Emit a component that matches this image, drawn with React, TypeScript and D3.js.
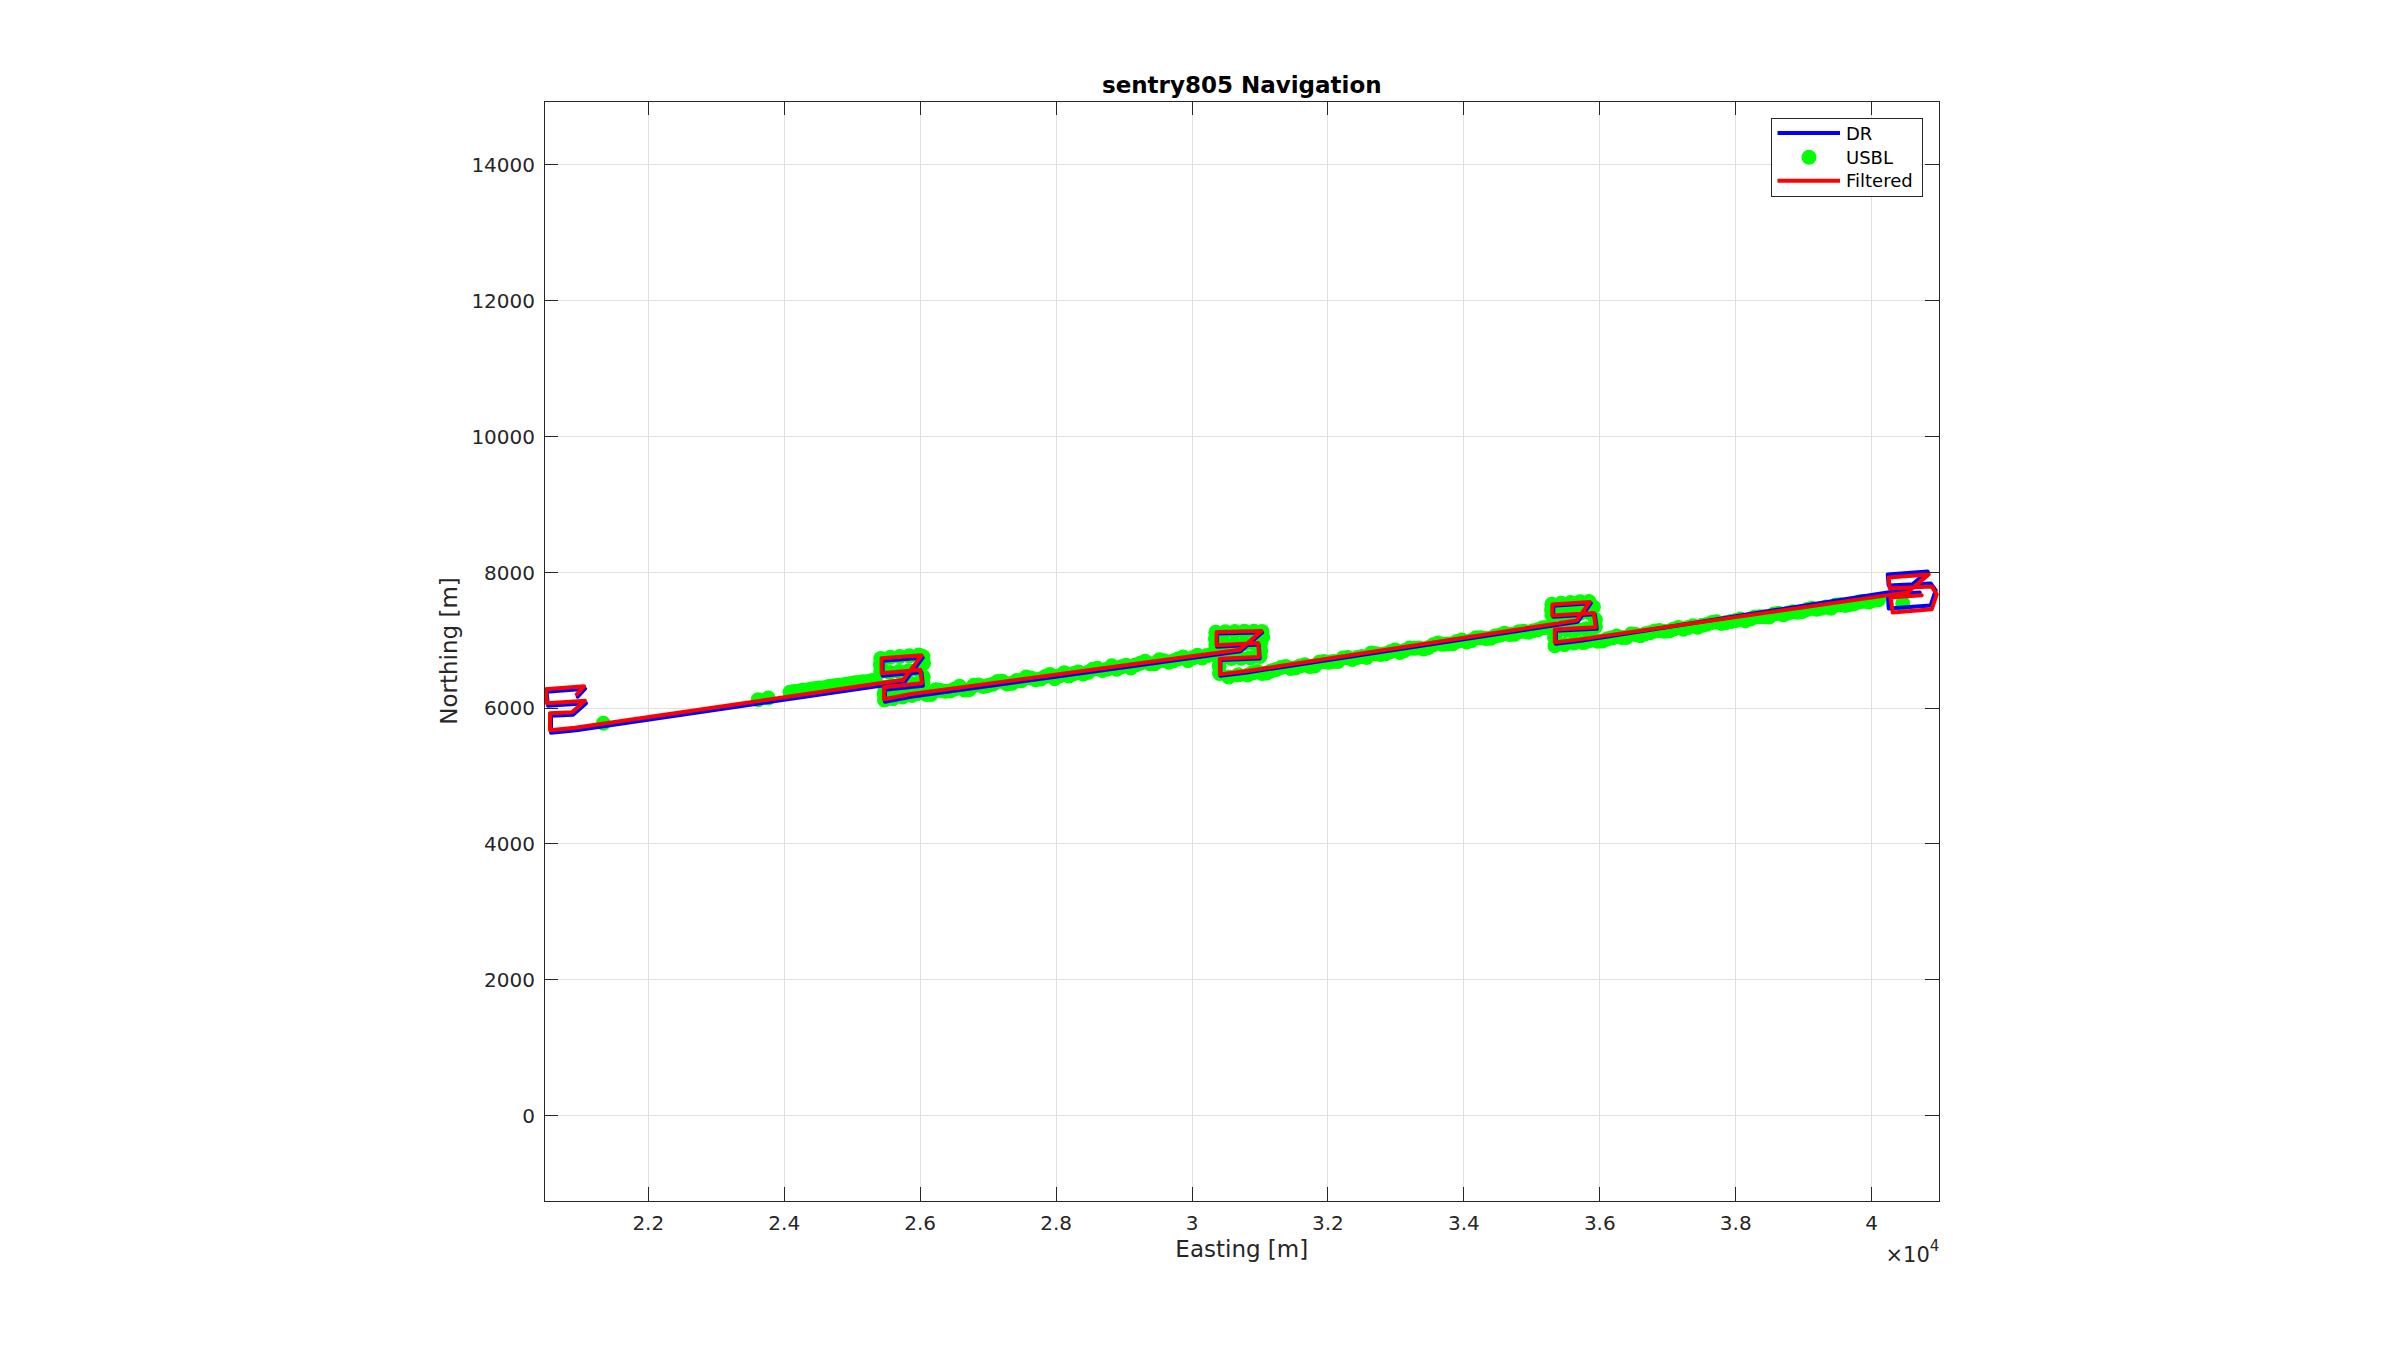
import React from 'react';
import * as d3 from 'd3';

// Axis limits (data units, metres) and ticks
const xLimits = [20470, 40995];
const yLimits = [-1256, 14938];
const xTicks = [22000, 24000, 26000, 28000, 30000, 32000, 34000, 36000, 38000, 40000];
const yTicks = [0, 2000, 4000, 6000, 8000, 10000, 12000, 14000];

// Filtered navigation track
const filteredE = [
  20947, 21054, 20488, 20510, 21069, 20878, 20554, 20554, 20922,
  25751, 26022, 25433, 25433, 26004, 26026, 25467, 25467, 25850,
  30704, 31023, 30361, 30361, 30973, 30988, 30410, 30410, 30778,
  35661, 35852, 35301, 35301, 35911, 35941, 35338, 35338, 35705,
  40530, 40839, 40251, 40265, 40883, 40957, 40883, 40310, 40280, 40736,
];
const filteredN = [
  6203, 6321, 6277, 6071, 6108, 5938, 5924, 5674, 5710,
  6417, 6777, 6733, 6512, 6564, 6365, 6306, 6130, 6203,
  6858, 7134, 7120, 6924, 6958, 6752, 6728, 6497, 6542,
  7292, 7564, 7527, 7365, 7402, 7189, 7159, 6968, 7012,
  7704, 7968, 7924, 7762, 7792, 7674, 7454, 7409, 7630, 7660,
];

// Dead-reckoning track
const drE = [
  20962, 21069, 20503, 20525, 21084, 20893, 20569, 20569, 20937,
  25766, 26037, 25448, 25448, 26019, 26041, 25482, 25482, 25865,
  30712, 31031, 30369, 30369, 30981, 30996, 30418, 30418, 30786,
  35676, 35867, 35316, 35316, 35926, 35956, 35353, 35353, 35720,
  40515, 40824, 40236, 40250, 40868, 40942, 40868, 40251, 40236, 40707,
];
const drN = [
  6168, 6286, 6242, 6036, 6073, 5903, 5889, 5639, 5675,
  6382, 6742, 6698, 6477, 6529, 6330, 6271, 6095, 6168,
  6838, 7114, 7100, 6904, 6938, 6732, 6708, 6477, 6522,
  7272, 7544, 7507, 7345, 7382, 7169, 7139, 6948, 6992,
  7748, 8012, 7968, 7806, 7836, 7733, 7512, 7468, 7674, 7704,
];

// USBL fixes
const usblE = [
  21338,
  23618, 23765, 24085, 24200, 24330, 24460, 24590, 24720, 24850, 24980, 25100, 25220, 25340,
  24140, 24265, 24395, 24525, 24655, 24785, 24915, 25040, 25160, 25280,
  25420, 25560, 25700, 25840, 25980, 26040, 25415, 25420, 25550, 25690, 25830, 25970,
  26050, 26045, 26040, 25900, 25760, 25620, 25480, 25470, 25475, 25600, 25740,
  25880, 26020, 26160, 26300, 26440, 26580, 26720, 26860, 27000, 27140, 27280, 27420,
  27560, 27700, 27840, 27980, 28120, 28260, 28400, 28540, 28680, 28820, 28960, 29100,
  29240, 29380, 29520, 29660, 29800, 29940, 30080, 30220, 30360,
  25950, 26090, 26230, 26370, 26510, 26650, 26790, 26930, 27070, 27210, 27350, 27490,
  27630, 27770, 27910, 28050, 28190, 28330, 28470, 28610, 28750, 28890, 29030, 29170,
  29310, 29450, 29590, 29730, 29870, 30010, 30150, 30290,
  30350, 30490, 30630, 30770, 30910, 31030, 30345, 30350, 30490, 30630, 30770, 30910,
  31010, 31040, 31010, 31000, 30860, 30720, 30580, 30430, 30400, 30405,
  30540, 30680, 30820, 30960, 31100, 31240, 31380, 31520, 31660, 31800, 31940, 32080,
  32220, 32360, 32500, 32640, 32780, 32920, 33060, 33200, 33340, 33480, 33620, 33760,
  33900, 34040, 34180, 34320, 34460, 34600, 34740, 34880, 35020, 35160, 35300,
  30890, 31030, 31170, 31310, 31450, 31590, 31730, 31870, 32010, 32150, 32290, 32430,
  32570, 32710, 32850, 32990, 33130, 33270, 33410, 33550, 33690, 33830, 33970, 34110,
  34250, 34390, 34530, 34670, 34810, 34950, 35090, 35230,
  35295, 35430, 35570, 35710, 35840, 35290, 35295, 35430, 35570, 35710, 35850, 35905,
  35935, 35935, 35800, 35660, 35520, 35380, 35335, 35340,
  35480, 35620, 35760, 35900, 36040, 36180, 36320, 36460, 36600, 36740, 36880, 37020,
  37160, 37300, 37440, 37580, 37720, 37860, 38000, 38140, 38280, 38420, 38560, 38700,
  38840, 38980, 39120, 39260, 39400, 39540, 39680, 39820, 39960, 40100,
  35830, 35970, 36110, 36250, 36390, 36530, 36670, 36810, 36950, 37090, 37230, 37370,
  37510, 37650, 37790, 37930, 38070, 38210, 38350, 38490, 38630, 38770, 38910, 39050,
  39190, 39330, 39470, 39610, 39750, 39890, 40030,
  40457,
];
const usblN = [
  5777,
  6125, 6150, 6235, 6250, 6262, 6288, 6300, 6325, 6340, 6362, 6378, 6390, 6410,
  6245, 6262, 6280, 6295, 6318, 6338, 6352, 6372, 6388, 6402,
  6730, 6748, 6760, 6770, 6782, 6760, 6640, 6540, 6525, 6540, 6550, 6565,
  6660, 6460, 6380, 6350, 6335, 6320, 6305, 6210, 6120, 6140, 6165,
  6187, 6236, 6200, 6259, 6253, 6321, 6270, 6339, 6333, 6392, 6356, 6405,
  6459, 6418, 6466, 6435, 6519, 6508, 6502, 6571, 6555, 6624, 6608, 6591,
  6660, 6654, 6713, 6677, 6726, 6700, 6779, 6773, 6776,
  6211, 6200, 6269, 6248, 6282, 6266, 6335, 6319, 6353, 6396, 6365, 6404,
  6443, 6427, 6496, 6475, 6474, 6533, 6527, 6586, 6574, 6573, 6632, 6636,
  6690, 6654, 6698, 6697, 6751, 6740, 6738, 6792,
  7118, 7125, 7128, 7130, 7133, 7128, 7020, 6930, 6935, 6945, 6950, 6955,
  6960, 7040, 6850, 6760, 6740, 6735, 6730, 6725, 6620, 6510,
  6460, 6490, 6488, 6540, 6516, 6568, 6614, 6591, 6637, 6619, 6685, 6687,
  6738, 6715, 6761, 6813, 6790, 6831, 6818, 6884, 6886, 6892, 6959, 6945,
  6982, 6973, 7035, 7026, 7063, 7104, 7086, 7132, 7139, 7185, 7187,
  6519, 6511, 6552, 6599, 6585, 6622, 6613, 6675, 6676, 6688, 6744, 6746,
  6747, 6799, 6800, 6857, 6848, 6880, 6871, 6933, 6939, 6946, 7002, 6994,
  7035, 7027, 7073, 7085, 7126, 7118, 7154, 7186,
  7530, 7545, 7555, 7565, 7570, 7445, 7370, 7378, 7388, 7395, 7405, 7490,
  7300, 7200, 7170, 7160, 7150, 7140, 7040, 6920,
  6935, 6960, 6965, 7005, 6990, 7035, 7040, 7090, 7065, 7110, 7141, 7136,
  7186, 7186, 7191, 7236, 7271, 7261, 7291, 7286, 7341, 7346, 7386, 7376,
  7417, 7422, 7472, 7472, 7472, 7522, 7527, 7567, 7562, 7597,
  6990, 6985, 7020, 7060, 7040, 7085, 7095, 7135, 7131, 7166, 7161, 7211,
  7221, 7261, 7246, 7276, 7311, 7311, 7346, 7341, 7396, 7402, 7412, 7452,
  7457, 7487, 7517, 7512, 7542, 7572, 7587,
  7542,
];

const legendItems = ['DR', 'USBL', 'Filtered'];

const FONT = '"DejaVu Sans", sans-serif';
const AX = '#262626';

export default function App() {
  const W = 2400, H = 1350;
  const L = 544.3, R = 1939.3, T = 101, B = 1201;
  const x = d3.scaleLinear().domain(xLimits).range([L, R]);
  const y = d3.scaleLinear().domain(yLimits).range([B, T]);
  const line = d3.line<[number, number]>().x(d => x(d[0])).y(d => y(d[1]));
  const filtered = d3.zip(filteredE, filteredN) as [number, number][];
  const dr = d3.zip(drE, drN) as [number, number][];
  const usbl = d3.zip(usblE, usblN) as [number, number][];
  const tickLen = 14;
  const cx = (L + R) / 2;

  const legX = 1771.7, legY = 118.3, legW = 151, legH = 78.4;
  const rows = [133, 157.3, 180.7];

  return (
    <svg width={W} height={H} style={{ position: 'absolute', left: 0, top: 0, background: '#fff' }}
      fontFamily={FONT}>
      <rect x={0} y={0} width={W} height={H} fill="#fff" />
      <defs>
        <clipPath id="plotclip">
          <rect x={L} y={T} width={R - L} height={B - T} />
        </clipPath>
      </defs>
      <rect x={L} y={T} width={R - L} height={B - T} fill="#fff" />
      {/* grid */}
      <g stroke="#dfdfdf" strokeWidth={1} shapeRendering="crispEdges">
        {xTicks.map(t => <line key={'gx' + t} x1={x(t)} x2={x(t)} y1={T} y2={B} />)}
        {yTicks.map(t => <line key={'gy' + t} x1={L} x2={R} y1={y(t)} y2={y(t)} />)}
      </g>
      {/* data */}
      <g clipPath="url(#plotclip)">
        <g fill="#00ff00">
          {usbl.map((d, i) => <circle key={'u' + i} cx={x(d[0])} cy={y(d[1])} r={7.5} />)}
        </g>
        <path d={line(dr) || ''} fill="none" stroke="#0000ff" strokeWidth={4} strokeLinejoin="round" strokeLinecap="round" />
        <path d={line(filtered) || ''} fill="none" stroke="#ff0000" strokeWidth={4} strokeLinejoin="round" strokeLinecap="round" />
      </g>
      {/* axes box and ticks */}
      <g stroke={AX} strokeWidth={1} shapeRendering="crispEdges" fill="none">
        <rect x={L} y={T} width={R - L} height={B - T} />
        {xTicks.map(t => (
          <g key={'tx' + t}>
            <line x1={x(t)} x2={x(t)} y1={B} y2={B - tickLen} />
            <line x1={x(t)} x2={x(t)} y1={T} y2={T + tickLen} />
          </g>
        ))}
        {yTicks.map(t => (
          <g key={'ty' + t}>
            <line x1={L} x2={L + tickLen} y1={y(t)} y2={y(t)} />
            <line x1={R} x2={R - tickLen} y1={y(t)} y2={y(t)} />
          </g>
        ))}
      </g>
      {/* tick labels */}
      <g fill={AX} fontSize={20}>
        {xTicks.map(t => (
          <text key={'lx' + t} x={x(t)} y={1230} textAnchor="middle">{String(+(t / 1e4).toFixed(1))}</text>
        ))}
        {yTicks.map(t => (
          <text key={'ly' + t} x={535} y={y(t) + 7.3} textAnchor="end">{String(t)}</text>
        ))}
        <text x={R} y={1261.5} textAnchor="end" fontSize={21}>
          <tspan>×10</tspan>
          <tspan fontSize={15} dy={-11}>4</tspan>
        </text>
      </g>
      {/* labels */}
      <text x={cx} y={1257} textAnchor="middle" fontSize={23} fill={AX}>Easting [m]</text>
      <text transform={`translate(457,${(T + B) / 2}) rotate(-90)`} textAnchor="middle" fontSize={23} fill={AX}>Northing [m]</text>
      <text x={cx} y={93} textAnchor="middle" fontSize={23} fontWeight="bold" fill="#000">sentry805 Navigation</text>
      {/* legend */}
      <g>
        <rect x={legX} y={legY} width={legW} height={legH} fill="#fff" stroke={AX} strokeWidth={1} shapeRendering="crispEdges" />
        <line x1={1777.5} x2={1840} y1={rows[0]} y2={rows[0]} stroke="#0000ff" strokeWidth={4} />
        <circle cx={1809} cy={rows[1]} r={7.5} fill="#00ff00" />
        <line x1={1777.5} x2={1840} y1={rows[2]} y2={rows[2]} stroke="#ff0000" strokeWidth={4} />
        {legendItems.map((s, i) => (
          <text key={s} x={1846} y={rows[i] + 6.5} fontSize={18} fill="#000">{s}</text>
        ))}
      </g>
    </svg>
  );
}
